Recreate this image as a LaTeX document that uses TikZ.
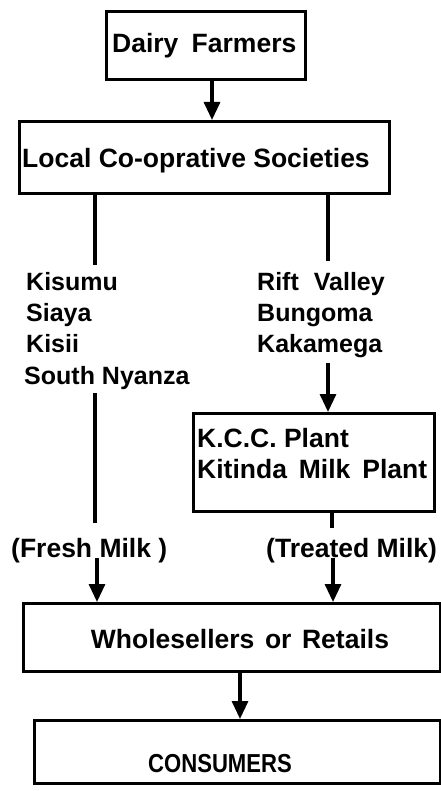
\documentclass[tikz,border=0pt]{standalone}
\usepackage{fontspec}
\usepackage{graphicx}
\setmainfont{Liberation Sans}
\usetikzlibrary{arrows.meta}
\begin{document}
\begin{tikzpicture}[x=1pt,y=-1pt,
  box/.style={draw, line width=2.6pt, inner sep=0pt, anchor=north west},
  flow/.style={line width=3.2pt},
  arr/.style={flow, -{Triangle[length=18pt,width=16pt]}},
  txt/.style={inner sep=0pt, anchor=base west, font=\bfseries\fontsize{26.5}{30}\selectfont},
  lst/.style={inner sep=0pt, anchor=base west, font=\bfseries\fontsize{25}{30}\selectfont}]
\useasboundingbox (0,0) rectangle (440,791);
% boxes
\node[box, minimum width=199pt, minimum height=68pt] (df) at (105,10) {};
\node[box, minimum width=370pt, minimum height=72pt] (lcs) at (18,120) {};
\node[box, minimum width=241pt, minimum height=98pt] (kcc) at (192,412) {};
\node[box, minimum width=417pt, minimum height=68pt] (ws) at (22,602) {};
\node[box, minimum width=406pt, minimum height=63pt] (cons) at (33,719) {};
% texts
\node[txt] (dft) at (112,53) {Dairy\hspace{0.5em}Farmers};
\node[txt] (lcst) at (22,168) {Local Co-oprative Societies};
\node[lst] (kisumu) at (26,290) {Kisumu};
\node[lst] (siaya) at (26,321) {Siaya};
\node[lst] (kisii) at (26,352) {Kisii};
\node[lst] (south) at (24,384) {South Nyanza};
\node[lst] (rift) at (257,290) {Rift\hspace{0.6em}Valley};
\node[lst] (bungoma) at (257,321) {Bungoma};
\node[lst] (kakamega) at (257,352) {Kakamega};
\node[txt] (kcct) at (197,447) {K.C.C. Plant};
\node[txt] (kit) at (197,478) {Kitinda\hspace{0.45em}Milk\hspace{0.45em}Plant};
\node[txt] (fresh) at (11,557) {(Fresh Milk )};
\node[txt] (treated) at (266,557) {(Treated Milk)};
\node[txt, anchor=base] (wst) at (240,648) {Wholesellers\hspace{0.4em}or\hspace{0.4em}Retails};
\node[inner sep=0pt, anchor=base, font=\bfseries\fontsize{26}{30}\selectfont] (const) at (220,772) {\scalebox{0.85}[1]{CONSUMERS}};
% connector coordinates
\coordinate (l1) at (95,265);
\coordinate (l2) at (95,393);
\coordinate (l3) at (95,523);
\coordinate (l4) at (97,558);
\coordinate (r1) at (328,261);
\coordinate (r2) at (328,363);
\coordinate (t1) at (332,528);
\coordinate (t2) at (333,558);
% connectors
\draw[arr] (df.south -| 212,0) -- (lcs.north -| 212,0);
\draw[flow] (lcs.south -| l1) -- (l1);
\draw[flow] (l2) -- (l3);
\draw[arr] (l4) -- (ws.north -| l4);
\draw[flow] (lcs.south -| r1) -- (r1);
\draw[arr] (r2) -- (kcc.north -| r2);
\draw[flow] (kcc.south -| t1) -- (t1);
\draw[arr] (t2) -- (ws.north -| t2);
\draw[arr] (ws.south -| 240,0) -- (cons.north -| 240,0);
\end{tikzpicture}
\end{document}
